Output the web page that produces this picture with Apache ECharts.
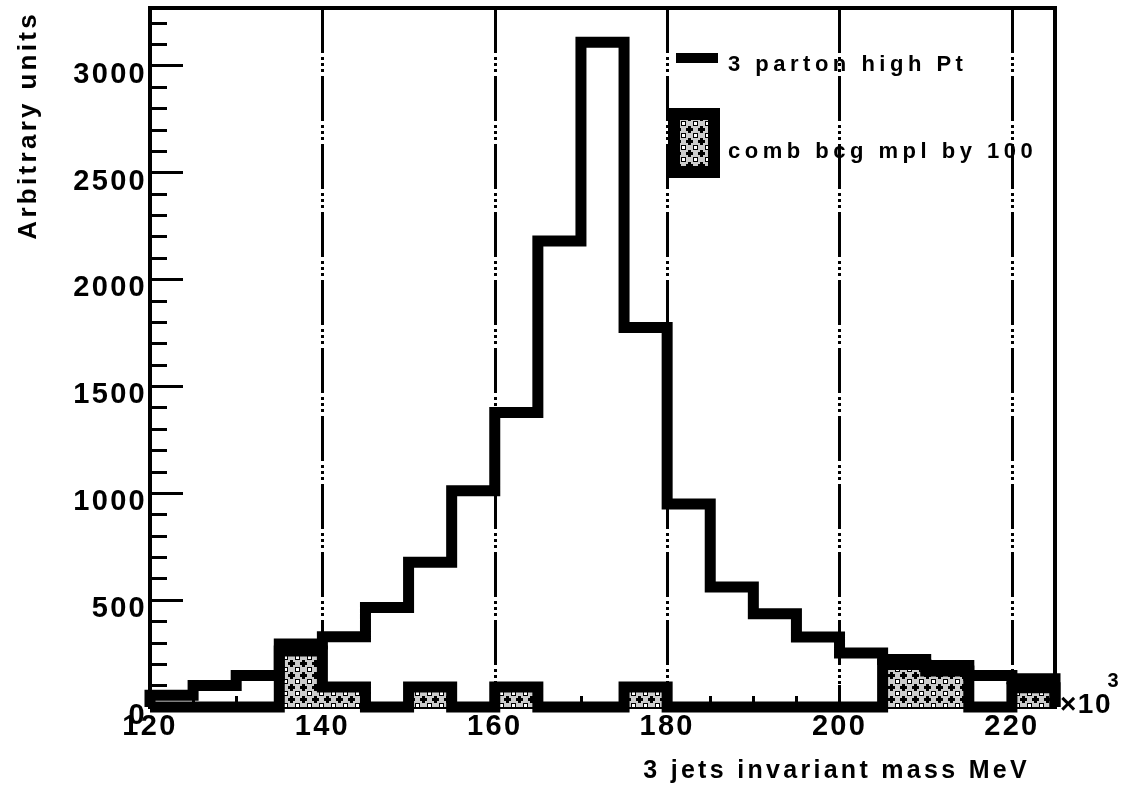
<!DOCTYPE html>
<html>
<head>
<meta charset="utf-8">
<script src="https://cdn.jsdelivr.net/npm/echarts@6/dist/echarts.min.js"></script>
<style>
html, body { margin: 0; padding: 0; background: #ffffff; }
#chart { width: 1124px; height: 789px; }
</style>
</head>
<body>
<div id="chart"></div>
<script>
// ---------------- data ----------------
const binEdges = [120, 125, 130, 135, 140, 145, 150, 155, 160, 165, 170, 175, 180, 185, 190, 195, 200, 205, 210, 215, 220, 225];
// 3 parton high Pt (one value per bin)
const partonHighPt = [55, 100, 147, 295, 329, 466, 677, 1012, 1378, 2180, 3110, 1775, 950, 561, 436, 327, 253, 222, 194, 147, 132];
// combinatorial background multiplied by 100 (one value per bin)
const combBcg = [0, 0, 0, 262, 94, 0, 94, 0, 94, 0, 0, 94, 0, 0, 0, 0, 0, 199, 168, 0, 90];
const xTickLabels = [120, 140, 160, 180, 200, 220];
const yTickLabels = [0, 500, 1000, 1500, 2000, 2500, 3000];
const seriesNames = ['3 parton high Pt', 'comb bcg mpl by 100'];
const xTitle = '3 jets invariant mass MeV';
const yTitle = 'Arbitrary units';

// ---------------- ROOT-like letter spacing of text ----------------
const TEXT_SPACING = { 29: 2.3, 28: 1.5, 26: 3.3, 25: 3.3, 22: 4.5 };
(function () {
  const proto = window.CanvasRenderingContext2D && CanvasRenderingContext2D.prototype;
  if (!proto || !('letterSpacing' in proto)) return;
  const origFill = proto.fillText;
  proto.fillText = function (text, x, y, maxWidth) {
    const m = /(\d+(?:\.\d+)?)px/.exec(this.font || '');
    const sp = m ? TEXT_SPACING[Math.round(parseFloat(m[1]))] : undefined;
    const prev = this.letterSpacing;
    if (sp) this.letterSpacing = sp + 'px';
    const r = maxWidth === undefined ? origFill.call(this, text, x, y) : origFill.call(this, text, x, y, maxWidth);
    if (sp) this.letterSpacing = prev;
    return r;
  };
})();

// ---------------- fill pattern for the background histogram ----------------
function makePatternCanvas() {
  const c = document.createElement('canvas');
  c.width = 12; c.height = 12;
  const g = c.getContext('2d');
  g.fillStyle = '#cccccc'; g.fillRect(0, 0, 12, 12);
  g.fillStyle = '#000';
  g.fillRect(0, 2, 7, 3); g.fillRect(2, 0, 3, 7);
  g.fillRect(7, 7, 5, 5);
  g.fillStyle = '#fff'; g.fillRect(8, 8, 3, 3);
  return c;
}
const pattern = { image: makePatternCanvas(), repeat: 'repeat' };

// histogram outline as step points (bin edges, values)
function toSteps(vals) {
  const pts = [[binEdges[0], 0]];
  for (let i = 0; i < vals.length; i++) pts.push([binEdges[i], vals[i]]);
  pts.push([binEdges[binEdges.length - 1], vals[vals.length - 1]]);
  pts.push([binEdges[binEdges.length - 1], 0]);
  return pts;
}

const FONT = '"Liberation Sans", Arial, Helvetica, sans-serif';
const BLACK = '#000000';

const chart = echarts.init(document.getElementById('chart'), null, { renderer: 'canvas', width: 1124, height: 789 });

const option = {
  animation: false,
  backgroundColor: '#ffffff',
  textStyle: { fontFamily: FONT, color: BLACK, fontWeight: 'bold' },
  grid: {
    left: 150, right: 69, top: 8, bottom: 82,
    show: true, borderColor: BLACK, borderWidth: 4, backgroundColor: 'transparent',
    containLabel: false, outerBoundsMode: 'none'
  },
  legend: [
    {
      left: 676, top: 40, padding: 0, itemWidth: 42, itemHeight: 10, selectedMode: false,
      formatter: '{t|{name}}',
      textStyle: {
        fontFamily: FONT, fontSize: 22, fontWeight: 'bold', color: BLACK,
        rich: { t: { fontFamily: FONT, fontSize: 22, fontWeight: 'bold', color: BLACK, lineHeight: 22, padding: [14, 0, 0, 5] } }
      },
      data: [{ name: seriesNames[0], icon: 'rect', itemStyle: { color: BLACK, borderWidth: 0 } }]
    },
    {
      left: 668, top: 108, padding: 0, itemWidth: 40, itemHeight: 58, selectedMode: false,
      formatter: '{t|{name}}',
      textStyle: {
        fontFamily: FONT, fontSize: 22, fontWeight: 'bold', color: BLACK,
        rich: { t: { fontFamily: FONT, fontSize: 22, fontWeight: 'bold', color: BLACK, lineHeight: 22, padding: [18, 0, 0, 9] } }
      },
      data: [{ name: seriesNames[1], icon: 'rect', itemStyle: { color: pattern, borderColor: BLACK, borderWidth: 12 } }]
    }
  ],
  xAxis: [
    {
      type: 'value', min: 120, max: 225, interval: 20, position: 'bottom',
      axisLine: { show: false },
      axisTick: { show: true, inside: true, length: 22, lineStyle: { color: BLACK, width: 3 } },
      axisLabel: {
        show: true, fontFamily: FONT, fontSize: 29, fontWeight: 'bold', color: BLACK, margin: 5, showMaxLabel: false,
        formatter: v => (xTickLabels.indexOf(v) >= 0 ? String(v) : '')
      },
      splitLine: { show: true, lineStyle: { color: BLACK, width: 3, type: [45, 4, 3, 3, 3, 3, 3, 4] } },
      name: xTitle, nameLocation: 'end', nameGap: -25, nameMoveOverlap: false,
      nameTextStyle: { fontFamily: FONT, fontSize: 25, fontWeight: 'bold', color: BLACK, align: 'right', verticalAlign: 'top', padding: [52, 0, 0, 0] }
    },
    {
      type: 'value', min: 120, max: 225, interval: 5, position: 'bottom',
      axisLine: { show: false },
      axisTick: { show: true, inside: true, length: 11, lineStyle: { color: BLACK, width: 3 } },
      axisLabel: { show: false },
      splitLine: { show: false },
      name: '{b|×10}{s|3}', nameLocation: 'end', nameGap: 5, nameMoveOverlap: false,
      nameTextStyle: {
        align: 'left', verticalAlign: 'middle', padding: [0, 0, 24, 0],
        rich: {
          b: { fontFamily: FONT, fontSize: 28, fontWeight: 'bold', color: BLACK, verticalAlign: 'bottom' },
          s: { fontFamily: FONT, fontSize: 20, fontWeight: 'bold', color: BLACK, verticalAlign: 'bottom', padding: [0, 0, 28, 0] }
        }
      }
    }
  ],
  yAxis: [
    {
      type: 'value', min: 0, max: 3270, interval: 500, position: 'left',
      axisLine: { show: false },
      axisTick: { show: true, inside: true, length: 33, lineStyle: { color: BLACK, width: 3 } },
      axisLabel: {
        show: true, fontFamily: FONT, fontSize: 29, fontWeight: 'bold', color: BLACK, margin: 3,
        verticalAlign: 'top', lineHeight: 18, showMaxLabel: false,
        formatter: v => (yTickLabels.indexOf(v) >= 0 ? String(v) : '')
      },
      splitLine: { show: false },
      name: yTitle, nameLocation: 'end', nameGap: -3, nameRotate: 90, nameMoveOverlap: false,
      nameTextStyle: { fontFamily: FONT, fontSize: 26, fontWeight: 'bold', color: BLACK, align: 'right', verticalAlign: 'bottom', padding: [0, 0, 108, 0] }
    },
    {
      type: 'value', min: 0, max: 3270, interval: 100, position: 'left',
      axisLine: { show: false },
      axisTick: { show: true, inside: true, length: 17, lineStyle: { color: BLACK, width: 3 } },
      axisLabel: { show: false },
      splitLine: { show: false }
    }
  ],
  series: [
    {
      type: 'line', name: seriesNames[1], xAxisIndex: 0, yAxisIndex: 0,
      data: toSteps(combBcg), step: 'end', symbol: 'none', showSymbol: false,
      clip: false, z: 2, silent: true,
      lineStyle: { color: BLACK, width: 11, join: 'miter', cap: 'butt' },
      itemStyle: { color: BLACK },
      areaStyle: { color: pattern, opacity: 1 }
    },
    {
      type: 'line', name: seriesNames[0], xAxisIndex: 0, yAxisIndex: 0,
      data: toSteps(partonHighPt), step: 'end', symbol: 'none', showSymbol: false,
      clip: false, z: 3, silent: true,
      lineStyle: { color: BLACK, width: 11, join: 'miter', cap: 'butt' },
      itemStyle: { color: BLACK }
    }
  ]
};
chart.setOption(option);
</script>
</body>
</html>
